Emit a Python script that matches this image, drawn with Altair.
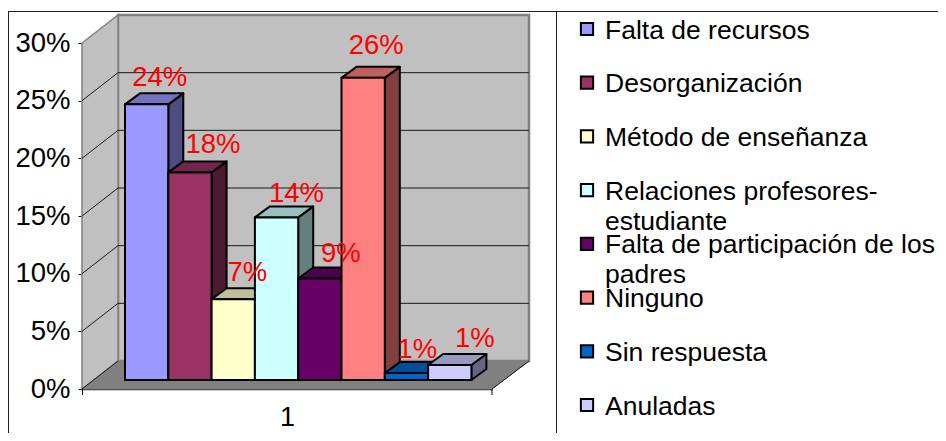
import altair as alt
import pandas as pd

# ---- data ----
categories = ["Falta de recursos", "Desorganización", "Método de enseñanza",
              "Relaciones profesores-estudiante", "Falta de participación de los padres",
              "Ninguno", "Sin respuesta", "Anuladas"]
legend_text = ["Falta de recursos", "Desorganización", "Método de enseñanza",
               "Relaciones profesores-\nestudiante", "Falta de participación de los\npadres",
               "Ninguno", "Sin respuesta", "Anuladas"]
values = [23.9, 18.0, 7.0, 14.1, 8.8, 26.2, 0.6, 1.3]
labels = ["24%", "18%", "7%", "14%", "9%", "26%", "1%", "1%"]

# ---- styles ----
front = ["#9999FF", "#993366", "#FFFFCC", "#CCFFFF", "#660066", "#FF8080", "#0066CC", "#CCCCFF"]
top_c = ["#7373BF", "#73264D", "#BFBF99", "#99BFBF", "#4D004D", "#BF6060", "#004D99", "#9999BF"]
side_c = ["#4D4D80", "#4D1A33", "#808066", "#668080", "#330033", "#804040", "#003366", "#666680"]
FONT = "Liberation Sans"

# ---- projection, in scale units ----
BAR_PX = 43.3
PX_PCT = 346 / 30
x_lo, x_hi = -43 / BAR_PX, 367 / BAR_PX
base = 9 / PX_PCT
bar_dx, bar_dy = 15 / BAR_PX, 11 / PX_PCT
wall_dx, wall_dy = 36 / BAR_PX, 28 / PX_PCT
wall_right = (529 - 125) / BAR_PX
floor_right = x_hi
nudge_x = [13, 23, 14, 20, 21, 13, 11, 25]
nudge_y = [26.5, 27.5, 26, 23.5, 25, 32, 23.5, 26.5]

xscale = alt.Scale(domain=[x_lo, x_hi], nice=False, zero=False)
yscale = alt.Scale(domain=[0, 30], nice=False, zero=False)
X = alt.X("x:Q", scale=xscale, title=None,
          axis=alt.Axis(values=[(x_lo + x_hi) / 2], labelExpr="'1'", ticks=False, grid=False,
                        domainColor="#222222", domainWidth=1.5, labelFont=FONT, labelFontSize=27,
                        labelColor="black", labelPadding=15))
X_plain = alt.X("x:Q", scale=xscale, axis=None)
Y = alt.Y("y:Q", scale=yscale, title=None,
          axis=alt.Axis(values=[0, 5, 10, 15, 20, 25, 30], labelExpr="datum.value + '%'", grid=False,
                        domainColor="black", domainWidth=1, tickColor="black", tickSize=4,
                        labelFont=FONT, labelFontSize=27.5, labelColor="black", labelPadding=8))
Y_plain = alt.Y("y:Q", scale=yscale, axis=None)
Y2 = alt.Y2("y2:Q")

back_x = x_lo + wall_dx
back_wall = pd.DataFrame({"x": [back_x, wall_right], "y": [wall_dy, wall_dy], "y2": [30 + wall_dy] * 2})
left_wall = pd.DataFrame({"x": [x_lo, back_x], "y": [0, wall_dy], "y2": [30, 30 + wall_dy]})
floor = pd.DataFrame({"x": [x_lo, back_x, floor_right, wall_right],
                      "y": [0, 0, 0, wall_dy], "y2": [0, wall_dy, wall_dy, wall_dy]})

grid_rows = []
for v in [5, 10, 15, 20, 25]:
    grid_rows += [dict(x=x_lo, y=v, g=v, o=0), dict(x=back_x, y=v + wall_dy, g=v, o=1),
                  dict(x=wall_right, y=v + wall_dy, g=v, o=2)]
grid_rows += [dict(x=x_lo, y=0, g=0, o=0), dict(x=back_x, y=wall_dy, g=0, o=1),
              dict(x=floor_right, y=0, g=99, o=0), dict(x=wall_right, y=wall_dy, g=99, o=1)]
grid = pd.DataFrame(grid_rows)

sides, tops, fronts, texts = [], [], [], []
for i, v in enumerate(values):
    lo, hi = base, base + v
    l, r = float(i), float(i + 1)
    sides += [dict(i=i, x=r, y=lo, y2=hi, c=side_c[i]),
              dict(i=i, x=r + bar_dx, y=lo + bar_dy, y2=hi + bar_dy, c=side_c[i])]
    tops += [dict(i=i, x=l, y=hi, y2=hi, c=top_c[i]),
             dict(i=i, x=l + bar_dx, y=hi, y2=hi + bar_dy, c=top_c[i]),
             dict(i=i, x=r, y=hi, y2=hi + bar_dy, c=top_c[i]),
             dict(i=i, x=r + bar_dx, y=hi + bar_dy, y2=hi + bar_dy, c=top_c[i])]
    fronts.append(dict(x=l, x2=r, y=lo, y2=hi, c=front[i]))
    texts.append(dict(x=l + 0.5 + nudge_x[i] / BAR_PX, y=hi + nudge_y[i] / PX_PCT, t=labels[i]))

legend_df = pd.DataFrame({"cat": categories, "txt": legend_text, "c": front})

wall_back = alt.Chart(back_wall).mark_area(fill="#C0C0C0", stroke="#808080", strokeWidth=2.5).encode(x=X_plain, y=Y_plain, y2=Y2)
wall_left = alt.Chart(left_wall).mark_area(fill="#C0C0C0", stroke="#808080", strokeWidth=1.5).encode(x=X_plain, y=Y_plain, y2=Y2)
wall_floor = alt.Chart(floor).mark_area(fill="#808080", stroke="#808080", strokeWidth=1).encode(x=X_plain, y=Y_plain, y2=Y2)
grid_lines = alt.Chart(grid).mark_line(color="#1a1a1a", strokeWidth=1).encode(
    x=X_plain, y=Y_plain, detail="g:N", order="o:Q")
axes = alt.Chart(back_wall).mark_area(opacity=0).encode(x=X, y=Y, y2=Y2)
side_layer = alt.Chart(pd.DataFrame(sides)).mark_area(stroke="black", strokeWidth=2, strokeJoin="round").encode(
    x=X_plain, y=Y_plain, y2=Y2, fill=alt.Fill("c:N", scale=None), detail="i:N")
top_layer = alt.Chart(pd.DataFrame(tops)).mark_area(stroke="black", strokeWidth=2, strokeJoin="round").encode(
    x=X_plain, y=Y_plain, y2=Y2, fill=alt.Fill("c:N", scale=None), detail="i:N")
front_layer = alt.Chart(pd.DataFrame(fronts)).mark_rect(stroke="black", strokeWidth=2).encode(
    x=X_plain, x2="x2:Q", y=Y_plain, y2=Y2, fill=alt.Fill("c:N", scale=None))
value_text = alt.Chart(pd.DataFrame(texts)).mark_text(color="#FF0000", font=FONT, fontSize=27.5).encode(
    x=X_plain, y=Y_plain, text="t:N")

# axis tick marks at the ends of the category axis
ticks = alt.Chart(pd.DataFrame({"a": [0.5, 410]})).mark_rule(color="black", strokeWidth=1).encode(
    x=alt.X("a:Q", scale=None, axis=None), y=alt.value(346), y2=alt.value(352))

# frame
frame_color = "#222222"
one = pd.DataFrame({"k": [0]})
frame = (
    alt.Chart(one).mark_rule(color=frame_color, strokeWidth=1).encode(
        x=alt.value(-73.5), y=alt.value(-32), y2=alt.value(390)),
    alt.Chart(one).mark_rule(color=frame_color, strokeWidth=1).encode(
        x=alt.value(474.5), y=alt.value(-32), y2=alt.value(390)),
    alt.Chart(one).mark_rule(color=frame_color, strokeWidth=1).encode(
        x=alt.value(-74), x2=alt.value(856), y=alt.value(-31.5)),
)

# legend
leg_y = alt.Y("cat:N", scale=alt.Scale(type="point", domain=categories, range=[-14, 362], padding=0), axis=None)
swatches = alt.Chart(legend_df).mark_square(size=150, stroke="black", strokeWidth=2, opacity=1).encode(
    x=alt.value(505), y=leg_y, fill=alt.Fill("c:N", scale=None))
leg_text = alt.Chart(legend_df).mark_text(align="left", baseline="alphabetic", dy=9.5, font=FONT, fontSize=26.5,
                                          color="black", lineBreak="\n", lineHeight=30).encode(
    x=alt.value(523), y=leg_y, text="txt:N")

chart = alt.layer(wall_back, wall_left, wall_floor, grid_lines, axes, side_layer, top_layer, front_layer,
                  value_text, ticks, *frame, swatches, leg_text).resolve_scale(
    y="independent", x="independent", fill="independent"
).resolve_axis(y="independent", x="independent").properties(
    width=410, height=346,
    padding={"left": 74, "top": 35, "right": 446, "bottom": 44},
    autosize=alt.AutoSizeParams(type="none"),
    background="white",
).configure_view(stroke=None)

chart.save("out.html", embed_options={"renderer": "svg", "actions": False})
